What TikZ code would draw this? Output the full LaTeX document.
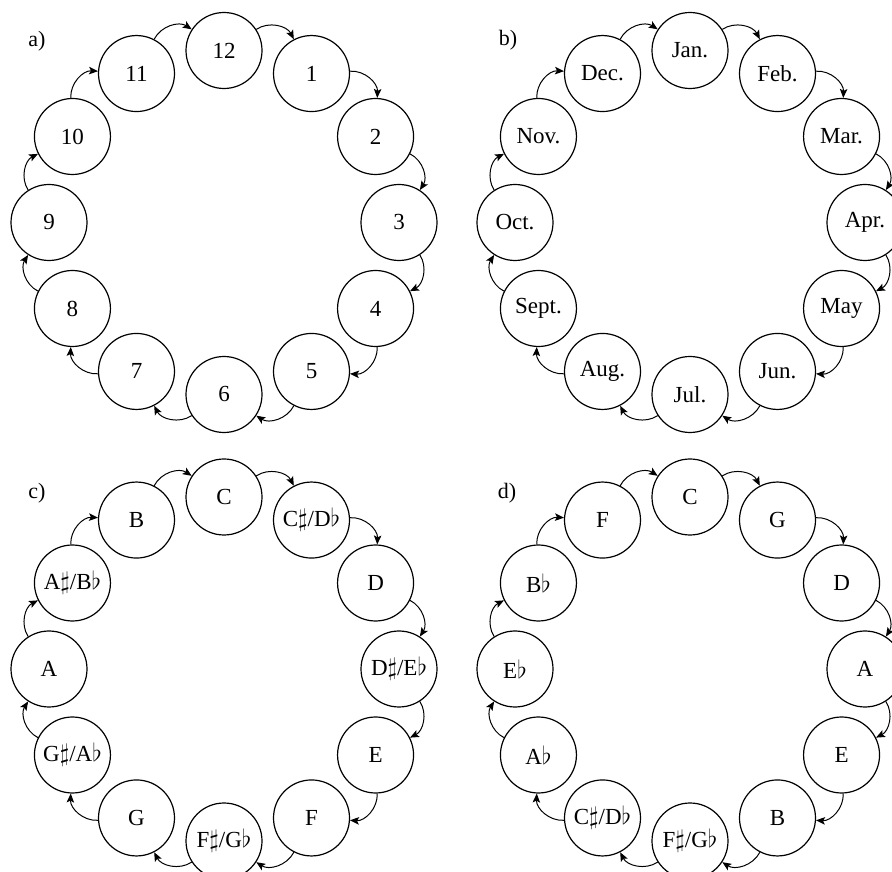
\documentclass[tikz,border=0pt]{standalone}
\usepackage{fontspec}
\setmainfont{Liberation Serif}
\usetikzlibrary{arrows.meta}

\tikzset{
  pc/.style={draw, circle, line width=1.2pt, minimum size=76pt, inner sep=0pt,
             font=\fontsize{23}{27}\selectfont},
  link/.style={-{Stealth[length=9pt,width=7.5pt,inset=2pt]}, line width=1pt, bend left=48},
  tag/.style={inner sep=0pt, font=\fontsize{22}{26}\selectfont}
}

% One ring of twelve circles, clockwise from the top, each linked to the next.
% #1,#2: centre of the ring; #3: name prefix; #4: the twelve labels
\newcommand\cyclering[4]{%
  \foreach \lab [count=\k from 0] in {#4} {
    \node[pc] (#3\k) at ({#1+175*sin(30*\k)}, {#2+172*cos(30*\k)}) {\lab};
  }
  \foreach \k in {0,...,11} {
    \pgfmathtruncatemacro\nxt{mod(\k+1,12)}
    \draw[link] (#3\k) to (#3\nxt);
  }
}

\begin{document}
\begin{tikzpicture}[x=1pt,y=1pt]
\useasboundingbox (0,0) rectangle (892,871);

% a) hours of the clock
\node[tag] (la) at (37,830) {a)};
\cyclering{224}{648.5}{a}{12,1,2,3,4,5,6,7,8,9,10,11}

% b) months of the year
\node[tag] (lb) at (508,831) {b)};
\cyclering{690}{648.5}{b}{Jan.,Feb.,Mar.,Apr.,May,Jun.,Jul.,Aug.,Sept.,Oct.,Nov.,Dec.}

% c) chromatic scale
\node[tag] (lc) at (37,378) {c)};
\cyclering{224}{202}{c}{C,C$\sharp$/D$\flat$,D,D$\sharp$/E$\flat$,E,F,F$\sharp$/G$\flat$,G,G$\sharp$/A$\flat$,A,A$\sharp$/B$\flat$,B}

% d) circle of fifths
\node[tag] (ld) at (507,378) {d)};
\cyclering{690}{202}{d}{C,G,D,A,E,B,F$\sharp$/G$\flat$,C$\sharp$/D$\flat$,A$\flat$,E$\flat$,B$\flat$,F}

\end{tikzpicture}
\end{document}
